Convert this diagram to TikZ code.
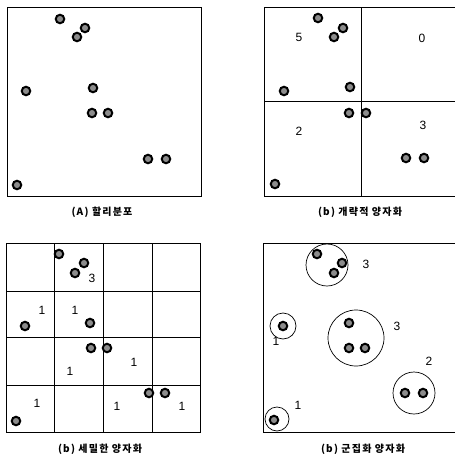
\documentclass[tikz,border=0pt]{standalone}
\usepackage{fontspec}
\setmainfont{Liberation Sans}
\newfontfamily\kr[LetterSpace=12]{Noto Sans CJK KR}
\begin{document}
\begin{tikzpicture}[x=1pt,y=-1pt]
\tikzstyle{spot} = [shape = circle,draw = black,line width = 2pt,fill = black!45,minimum size = 8.5pt,inner sep=0pt]
\tikzstyle{ring} = [shape = circle,draw = black,line width = 0.7pt,inner sep=0pt]
\tikzstyle{num} = [font=\fontsize{12}{12}\selectfont,inner sep=0pt]
\tikzstyle{caption} = [font=\kr\bfseries\fontsize{10}{10}\selectfont,inner sep=0pt]

\useasboundingbox (0,0) rectangle (455,458);
\clip (0,0) rectangle (455,458);

% (A)
\draw[line width=0.9pt] (7,7) rectangle (201,196);
\foreach \x/\y [count=\i] in {60/19,85/28,77/37,26/91,93/88,92/113,108/113,148/159,166/159,17/185}
  \node[spot] (a\i) at (\x,\y) {};
\node[caption] (capa) at (102,212) {(A) 할리분포};

% (b) coarse
\draw[line width=0.9pt] (264,7) rectangle (458,196);
\draw[line width=0.9pt] (361,7) -- (361,196);
\draw[line width=0.9pt] (264,101) -- (458,101);
\foreach \x/\y [count=\i] in {318/18,343/28,334/37,284/91,350/87,349/113,366/113,406/158,424/158,275/184}
  \node[spot] (b\i) at (\x,\y) {};
\node[num] (nb1) at (299,37) {5};
\node[num] (nb2) at (422,38) {0};
\node[num] (nb3) at (299,131) {2};
\node[num] (nb4) at (423,125) {3};
\node[caption] (capb) at (360,212) {(b) 개략적 양자화};

% (b) fine
\draw[line width=0.9pt] (6,243) rectangle (200,432);
\foreach \g in {54,103,152}
  \draw[line width=0.9pt] (\g,243) -- (\g,432);
\foreach \g in {291,337,385}
  \draw[line width=0.9pt] (6,\g) -- (200,\g);
\foreach \x/\y [count=\i] in {59/254,84/263,75/273,25/326,90/323,91/348,107/348,149/393,165/393,16/421}
  \node[spot] (c\i) at (\x,\y) {};
\node[num] (nc0) at (92,278) {3};
\foreach \x/\y [count=\i] in {42/310,75/310,134/362,70/371,37/403,117/406,182/406}
  \node[num] (nc\i) at (\x,\y) {1};
\node[caption] (capc) at (100,449) {(b) 세밀한 양자화};

% (b) clustered
\draw[line width=0.9pt] (458,243) -- (263,243) -- (263,432) -- (458,432);
\node[ring, minimum size=42pt] (r1) at (327,265) {};
\node[ring, minimum size=26pt] (r2) at (283,326) {};
\node[ring, minimum size=56pt] (r3) at (356,338) {};
\node[ring, minimum size=42pt] (r4) at (414,393) {};
\node[ring, minimum size=24pt] (r5) at (277,419) {};
\foreach \x/\y [count=\i] in {317/254,342/263,334/273,283/326,349/323,349/348,365/348,405/393,423/393,274/420}
  \node[spot] (d\i) at (\x,\y) {};
\node[num] (nd1) at (366,264) {3};
\node[num] (nd2) at (276,341) {1};
\node[num] (nd3) at (397,326) {3};
\node[num] (nd4) at (429,361) {2};
\node[num] (nd5) at (298,405) {1};
\node[caption] (capd) at (363,449) {(b) 군집화 양자화};

\end{tikzpicture}
\end{document}
